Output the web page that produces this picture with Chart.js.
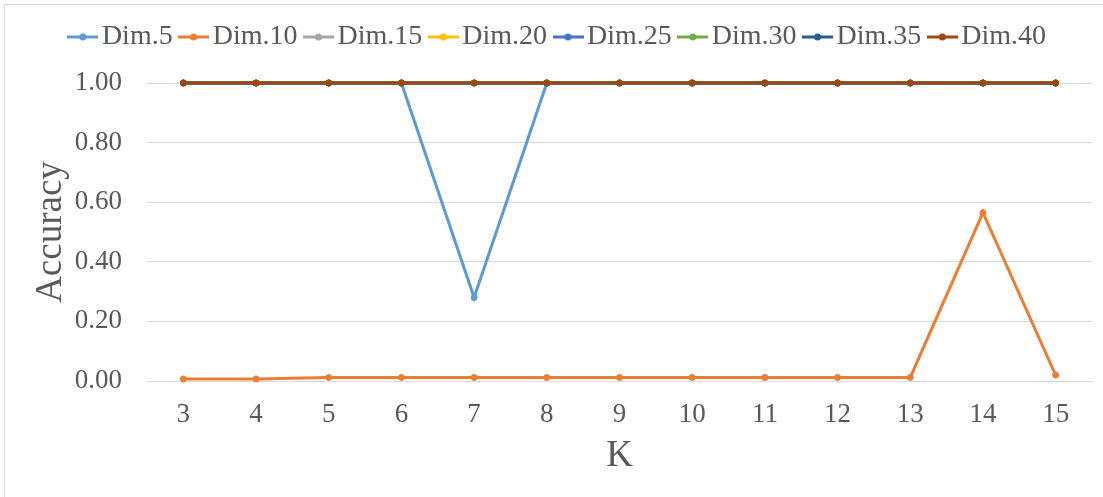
<!DOCTYPE html>
<html lang="en">
<head>
<meta charset="UTF-8">
<title>Accuracy vs K</title>
<script src="https://cdn.jsdelivr.net/npm/chart.js"></script>
<style>
  html, body { margin: 0; padding: 0; background: #fff; }
  .wrap { position: relative; width: 1103px; height: 497px; overflow: hidden; }
  /* the light frame only shows on the top and left edge */
  .frame { position: absolute; left: 4px; top: 4px; width: 1200px; height: 600px; border: 1px solid #d9d9d9; box-sizing: border-box; }
  canvas { position: absolute; left: 0; top: 0; }
</style>
</head>
<body>
<div class="wrap">
  <div class="frame"></div>
  <canvas id="accChart" width="1103" height="497"></canvas>
</div>
<script>
  // data
  const kValues = ['3', '4', '5', '6', '7', '8', '9', '10', '11', '12', '13', '14', '15'];
  const dim5  = [1, 1, 1, 1, 0.28, 1, 1, 1, 1, 1, 1, 1, 1];
  const dim10 = [0.007, 0.007, 0.012, 0.012, 0.012, 0.012, 0.012, 0.012, 0.012, 0.012, 0.012, 0.565, 0.02];
  const dim15 = [1, 1, 1, 1, 1, 1, 1, 1, 1, 1, 1, 1, 1];
  const dim20 = [1, 1, 1, 1, 1, 1, 1, 1, 1, 1, 1, 1, 1];
  const dim25 = [1, 1, 1, 1, 1, 1, 1, 1, 1, 1, 1, 1, 1];
  const dim30 = [1, 1, 1, 1, 1, 1, 1, 1, 1, 1, 1, 1, 1];
  const dim35 = [1, 1, 1, 1, 1, 1, 1, 1, 1, 1, 1, 1, 1];
  const dim40 = [1, 1, 1, 1, 1, 1, 1, 1, 1, 1, 1, 1, 1];
  const yTicks = [0, 0.2, 0.4, 0.6, 0.8, 1.0];

  const seriesNames = ['Dim.5', 'Dim.10', 'Dim.15', 'Dim.20', 'Dim.25', 'Dim.30', 'Dim.35', 'Dim.40'];
  const seriesData = [dim5, dim10, dim15, dim20, dim25, dim30, dim35, dim40];
  const seriesColors = ['#5b9bd5', '#ed7d31', '#a5a5a5', '#ffc000', '#4472c4', '#70ad47', '#255e91', '#9e480e'];

  const textColor = '#595959';
  const gridColor = '#d9d9d9';
  const serif = "'Liberation Serif', 'Times New Roman', serif";

  // little line-with-dot sample for the legend, like Excel draws it
  function legendMarker(color) {
    const c = document.createElement('canvas');
    c.width = 31;
    c.height = 10;
    const g = c.getContext('2d');
    g.strokeStyle = color;
    g.lineWidth = 3;
    g.beginPath();
    g.moveTo(0, 5);
    g.lineTo(31, 5);
    g.stroke();
    g.fillStyle = color;
    g.beginPath();
    g.arc(15.5, 5, 3.5, 0, Math.PI * 2);
    g.fill();
    return c;
  }
  const markers = seriesColors.map(legendMarker);

  const datasets = seriesNames.map((name, i) => ({
    label: name,
    data: seriesData[i],
    borderColor: seriesColors[i],
    backgroundColor: seriesColors[i],
    pointBackgroundColor: seriesColors[i],
    pointBorderColor: seriesColors[i],
    borderWidth: 3,
    pointRadius: 3,
    pointBorderWidth: 1,
    tension: 0,
    clip: false,
    order: seriesNames.length - i // last series painted on top
  }));

  // push the plot down below the legend and nudge the legend row to the right
  const legendGap = {
    id: 'legendGap',
    beforeLayout(chart) {
      const legend = chart.legend;
      if (legend && !legend._gapPatched) {
        const fit = legend.fit;
        legend.fit = function () {
          fit.call(this);
          this.height += 22;
        };
        legend._gapPatched = true;
      }
    },
    afterLayout(chart) {
      chart.legend.left += 14;
      chart.legend.right += 14;
    }
  };

  new Chart(document.getElementById('accChart'), {
    type: 'line',
    data: { labels: kValues, datasets: datasets },
    plugins: [legendGap],
    options: {
      responsive: false,
      animation: false,
      layout: { padding: { left: 4, right: 11, top: 7, bottom: 0 } },
      plugins: {
        tooltip: { enabled: false },
        legend: {
          position: 'top',
          labels: {
            color: textColor,
            font: { family: serif, size: 28 },
            usePointStyle: true,
            pointStyleWidth: 10,
            padding: 16,
            sort: (a, b) => a.datasetIndex - b.datasetIndex,
            generateLabels(chart) {
              const items = Chart.defaults.plugins.legend.labels.generateLabels(chart);
              items.forEach(it => { it.pointStyle = markers[it.datasetIndex]; });
              return items;
            }
          }
        }
      },
      scales: {
        x: {
          offset: true,
          grid: { display: false, drawTicks: false },
          border: { display: true, color: gridColor, width: 1 },
          ticks: { color: textColor, font: { family: serif, size: 27 }, padding: 18, maxRotation: 0 },
          title: { display: true, text: 'K', color: textColor, font: { family: serif, size: 37 }, padding: { top: 0, bottom: 19 } },
          afterFit(scale) { scale.height = 116; }
        },
        y: {
          min: 0,
          max: 1,
          afterBuildTicks(scale) { scale.ticks = yTicks.map(v => ({ value: v })); },
          grid: { color: gridColor, lineWidth: 1, drawTicks: false },
          border: { display: false },
          ticks: { color: textColor, font: { family: serif, size: 27 }, padding: 25, callback: v => Number(v).toFixed(2) },
          title: { display: true, text: 'Accuracy', color: textColor, font: { family: serif, size: 37 }, padding: { top: 25, bottom: 0 } },
          afterFit(scale) { scale.width = 143; }
        }
      }
    }
  });
</script>
</body>
</html>
